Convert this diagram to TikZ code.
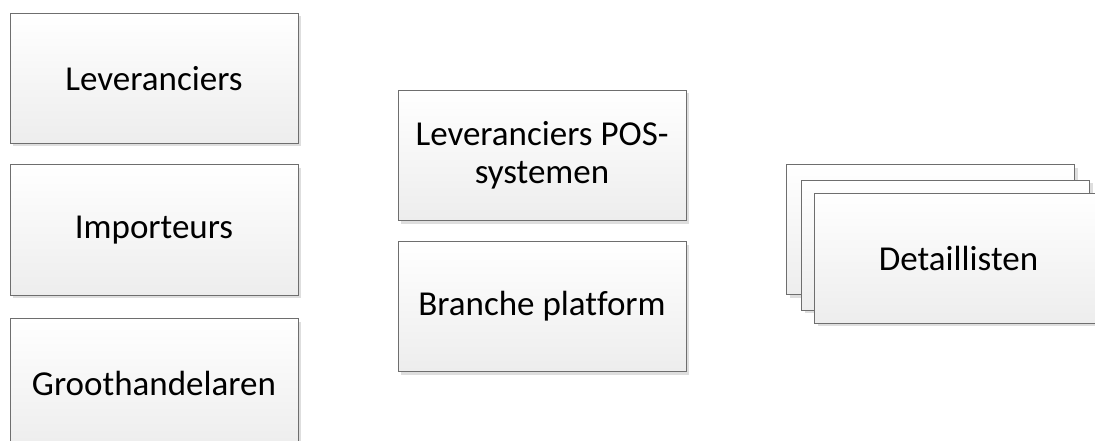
\documentclass[tikz,border=0pt]{standalone}
\usepackage{fontspec}
\setmainfont[Ligatures=NoCommon]{Carlito}
\usetikzlibrary{shadows}
\definecolor{boxline}{HTML}{6E6E6E}
\definecolor{boxbot}{HTML}{EDEDED}
\definecolor{shad}{HTML}{DEDEDE}
\tikzset{
  box/.style={draw=boxline, line width=1pt, top color=white, bottom color=boxbot,
    minimum width=288pt, minimum height=130pt, inner sep=0pt, align=center,
    font=\fontsize{35pt}{38pt}\selectfont,
    drop shadow={shadow xshift=3pt, shadow yshift=-3pt, fill=shad, opacity=1}},
}
\begin{document}
\begin{tikzpicture}[x=1pt,y=-1pt]
\useasboundingbox (0,0) rectangle (1095,441);
\node[box] (lev) at (154,78.5) {Leveranciers};
\node[box] (imp) at (154,230) {Importeurs};
\node[box] (gro) at (154,383.5) {Groothandelaren};
\node[box] (pos) at (542,155.5) {Leveranciers POS-\\systemen};
\node[box] (bra) at (542,306.5) {Branche platform};
\node[box] (det3) at (930.5,229.5) {};
\node[box] (det2) at (945.5,245) {};
\node[box] (det1) at (958.5,258) {Detaillisten};
\end{tikzpicture}
\end{document}
